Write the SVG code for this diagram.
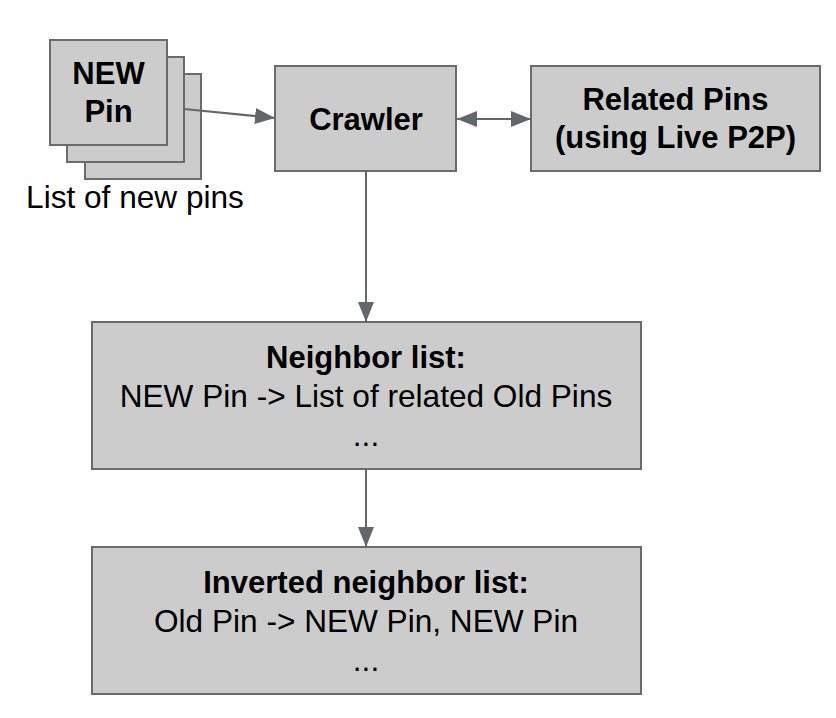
<svg xmlns="http://www.w3.org/2000/svg" width="836" height="718" viewBox="0 0 836 718">
<style>
.box{fill:#cccccc;stroke:#6b6b6b;stroke-width:2}
.t{font-family:"Liberation Sans",Arial,sans-serif;font-size:31.6px;fill:#000;text-anchor:middle}
.b{font-weight:bold;font-size:31px}
.c{stroke:#63666a;stroke-width:2;fill:none}
</style>
<defs>
<marker id="ah" markerUnits="userSpaceOnUse" markerWidth="20" markerHeight="16" refX="20" refY="8" orient="auto-start-reverse" viewBox="0 0 20 16">
<path d="M0,0 L20,8 L0,16 Z" fill="#63666a"/>
</marker>
</defs>
<rect width="836" height="718" fill="#fff"/>
<g id="new-pins">
<rect class="box" x="85" y="74" width="116" height="105"/>
<rect class="box" x="67" y="57" width="117" height="105"/>
<rect class="box" x="50" y="40" width="117" height="105"/>
<text class="t b" x="108.5" y="84">NEW</text>
<text class="t b" x="108.5" y="122">Pin</text>
<text class="t" x="135" y="208">List of new pins</text>
</g>
<g id="crawler">
<rect class="box" x="275" y="66" width="181" height="105"/>
<text class="t b" x="366" y="130">Crawler</text>
</g>
<g id="related-pins">
<rect class="box" x="531" y="66" width="289" height="105"/>
<text class="t b" x="675.5" y="110">Related Pins</text>
<text class="t b" x="675.5" y="148">(using Live P2P)</text>
</g>
<g id="neighbor-list">
<rect class="box" x="92" y="322" width="549" height="147"/>
<text class="t b" x="366" y="368">Neighbor list:</text>
<text class="t" x="366" y="407">NEW Pin -&gt; List of related Old Pins</text>
<text class="t" x="366" y="446">...</text>
</g>
<g id="inverted-neighbor-list">
<rect class="box" x="92" y="547" width="549" height="147"/>
<text class="t b" x="366" y="593">Inverted neighbor list:</text>
<text class="t" x="366" y="632">Old Pin -&gt; NEW Pin, NEW Pin</text>
<text class="t" x="366" y="671">...</text>
</g>
<g id="connectors">
<line class="c" x1="184" y1="109" x2="275" y2="118" marker-end="url(#ah)"/>
<line class="c" x1="457" y1="119" x2="531" y2="119" marker-start="url(#ah)" marker-end="url(#ah)"/>
<line class="c" x1="366" y1="171" x2="366" y2="322" marker-end="url(#ah)"/>
<line class="c" x1="366" y1="469" x2="366" y2="547" marker-end="url(#ah)"/>
</g>
</svg>
